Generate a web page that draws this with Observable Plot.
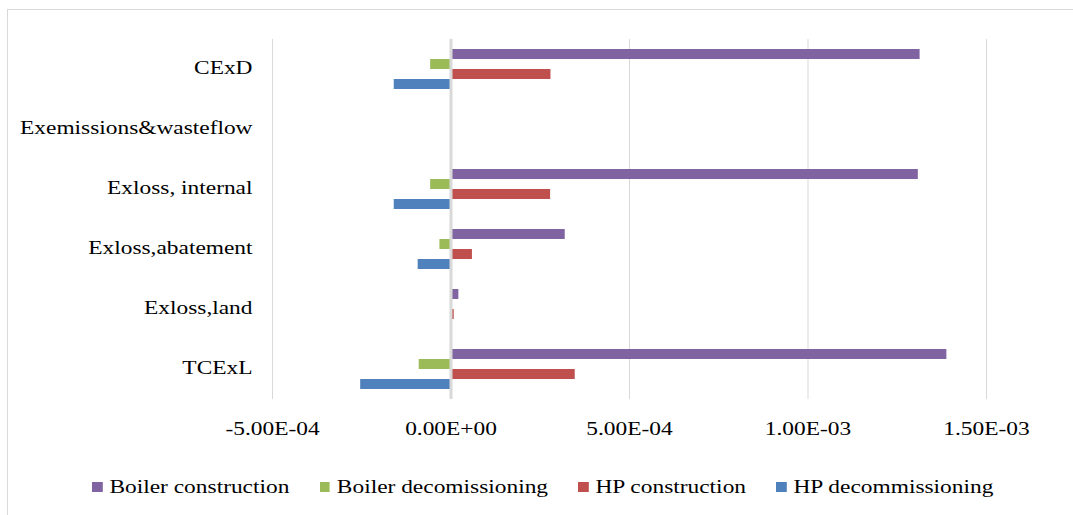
<!DOCTYPE html>
<html>
<head>
<meta charset="utf-8">
<script src="https://cdn.jsdelivr.net/npm/d3@7"></script>
<script src="https://cdn.jsdelivr.net/npm/@observablehq/plot@0.6"></script>
<style>
  html, body { margin: 0; padding: 0; background: #fff; }
  body { width: 1073px; height: 515px; overflow: hidden; position: relative; font-family: "Liberation Serif", "Times New Roman", serif; }
  #frame { position: absolute; left: 7px; top: 9px; width: 1100px; height: 600px; border: 1px solid #d9d9d9; box-sizing: border-box; }
  #chart { position: absolute; left: 0; top: 0; }
  #legend { position: absolute; left: 92px; top: 476px; display: flex; align-items: center; white-space: nowrap;
            font-size: 19.5px; color: #000; transform: scaleX(1.2); transform-origin: left center; }
  .item { display: flex; align-items: center; margin-right: 25px; }
  .sw { width: 8.5px; height: 10.5px; margin-right: 6px; }
</style>
</head>
<body>
<div id="frame"></div>
<div id="chart"></div>
<div id="legend"></div>
<script>
const categories = ["CExD", "Exemissions&wasteflow", "Exloss, internal", "Exloss,abatement", "Exloss,land", "TCExL"];
const series = ["Boiler construction", "Boiler decomissioning", "HP construction", "HP decommissioning"];
const colors = ["#8064A2", "#9BBB59", "#C0504D", "#4F81BD"];
const boilerConstruction = [1.314e-3, 0, 1.309e-3, 3.20e-4, 2.2e-5, 1.389e-3];
const boilerDecomissioning = [-5.7e-5, 0, -5.7e-5, -3.1e-5, 0, -8.9e-5];
const hpConstruction = [2.80e-4, 0, 2.79e-4, 6.0e-5, 9e-6, 3.48e-4];
const hpDecommissioning = [-1.59e-4, 0, -1.59e-4, -9.2e-5, 0, -2.53e-4];
const tickValues = [-5e-4, 0, 5e-4, 1e-3, 1.5e-3];
const tickLabels = ["-5.00E-04", "0.00E+00", "5.00E-04", "1.00E-03", "1.50E-03"];

const seriesValues = [boilerConstruction, boilerDecomissioning, hpConstruction, hpDecommissioning];
const data = [];
categories.forEach((c, i) => {
  series.forEach((s, j) => data.push({category: c, series: s, value: seriesValues[j][i]}));
});

const chart = Plot.plot({
  width: 1073,
  height: 460,
  marginLeft: 272,
  marginRight: 87,
  marginTop: 37,
  marginBottom: 59,
  style: {fontFamily: "'Liberation Serif', 'Times New Roman', serif", fontSize: "19.5px", color: "#000", background: "transparent", overflow: "visible"},
  x: {domain: [-5e-4, 1.5e-3]},
  y: {domain: series, axis: null, paddingInner: 0.02, paddingOuter: 0.89},
  fy: {domain: categories, padding: 0, axis: null},
  color: {domain: series, range: colors},
  marks: [
    Plot.gridX({ticks: tickValues, stroke: "#d9d9d9", strokeOpacity: 1, strokeWidth: 1}),
    Plot.barX(data, {x: "value", y: "series", fy: "category", fill: "series", inset: 0}),
    Plot.ruleX([0], {stroke: "#d9d9d9", strokeWidth: 3}),
    Plot.axisFy({anchor: "left", tickSize: 0, tickPadding: 20, label: null, fontSize: 19.5, dy: -2}),
    Plot.axisX({anchor: "bottom", ticks: tickValues, tickFormat: d => tickLabels[tickValues.indexOf(d)], tickSize: 0, tickPadding: 22, label: null, fontSize: 19.5})
  ]
});
document.getElementById("chart").appendChild(chart);

// Horizontal stretch of the text around its anchor point, as in the reference
chart.querySelectorAll("text").forEach(t => {
  const tr = t.getAttribute("transform") || "";
  const x = t.getAttribute("x");
  let extra = "";
  if (x != null && !/em/.test(x)) { extra = ` translate(${x},0)`; t.removeAttribute("x"); }
  t.setAttribute("transform", (tr + extra + " scale(1.2,1)").trim());
});

const legend = document.getElementById("legend");
series.forEach((s, j) => {
  const it = document.createElement("div");
  it.className = "item";
  const sw = document.createElement("span");
  sw.className = "sw";
  sw.style.background = colors[j];
  const tx = document.createElement("span");
  tx.textContent = s;
  it.appendChild(sw);
  it.appendChild(tx);
  legend.appendChild(it);
});
</script>
</body>
</html>
